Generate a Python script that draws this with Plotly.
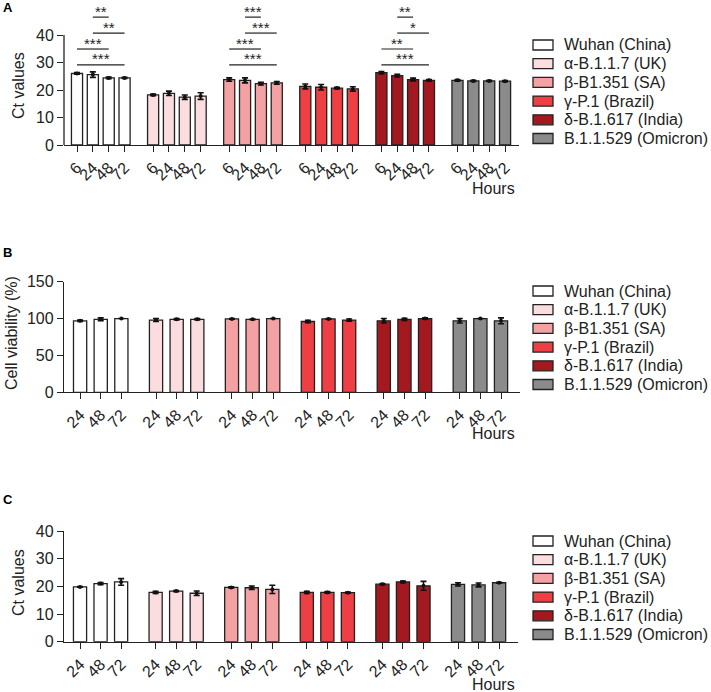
import plotly.graph_objects as go

FONT = "Liberation Sans, Arial, sans-serif"
TXT = "#222222"
W, H = 711, 692

variants = ["Wuhan (China)", "α-B.1.1.7 (UK)", "β-B1.351 (SA)",
            "γ-P.1 (Brazil)", "δ-B.1.617 (India)", "B.1.1.529 (Omicron)"]
colors = ["#ffffff", "#fbdde0", "#f4a1a4", "#ee3f45", "#a3191f", "#8b8b8b"]

# Panel A: Ct values at 6/24/48/72 h
hours_a = ["6", "24", "48", "72"]
ct_a_mean = [
    [26.0, 25.6, 24.4, 24.4],
    [18.2, 18.8, 17.4, 17.8],
    [23.8, 23.5, 22.3, 22.6],
    [21.3, 21.0, 20.7, 20.4],
    [26.3, 25.2, 23.8, 23.5],
    [23.5, 23.3, 23.3, 23.2],
]
ct_a_sd = [
    [0.3, 1.0, 0.3, 0.2],
    [0.3, 0.8, 0.8, 1.2],
    [0.6, 0.9, 0.5, 0.5],
    [0.9, 1.0, 0.3, 0.8],
    [0.4, 0.5, 0.5, 0.3],
    [0.3, 0.2, 0.2, 0.2],
]
# significance: (variant index, from hour index, to hour index, label)
sig_a = [
    (0, 1, 2, "**"), (0, 1, 3, "**"), (0, 0, 2, "***"), (0, 0, 3, "***"),
    (2, 1, 2, "***"), (2, 1, 3, "***"), (2, 0, 2, "***"), (2, 0, 3, "***"),
    (4, 1, 2, "**"), (4, 1, 3, "*"), (4, 0, 2, "**"), (4, 0, 3, "***"),
]

# Panel B: cell viability at 24/48/72 h
hours_bc = ["24", "48", "72"]
via_mean = [
    [97, 99, 100],
    [98, 99, 99],
    [99.5, 99, 100],
    [96, 99.5, 98],
    [97, 99, 100],
    [97, 100, 97],
]
via_sd = [
    [1, 2, 0],
    [2, 1, 1],
    [0.5, 0.5, 0],
    [1.5, 0.5, 1.5],
    [3, 1.5, 1],
    [3, 0, 4],
]

# Panel C: Ct values at 24/48/72 h
ct_c_mean = [
    [19.8, 21.0, 21.6],
    [17.8, 18.3, 17.5],
    [19.6, 19.5, 18.9],
    [17.8, 17.8, 17.7],
    [20.8, 21.6, 20.2],
    [20.7, 20.5, 21.3],
]
ct_c_sd = [
    [0.1, 0.4, 1.2],
    [0.4, 0.2, 0.8],
    [0.2, 0.6, 1.5],
    [0.4, 0.3, 0.2],
    [0.2, 0.3, 1.6],
    [0.6, 0.7, 0.2],
]


def px_x(p):
    return p / W


def px_y(p):
    return 1 - p / H


fig = go.Figure()

panels = [
    dict(ax="", mean=ct_a_mean, sd=ct_a_sd, hours=hours_a, period=4.8, bw=0.7,
         xr=[-0.82, 27.88], xpx=(64, 519), ypx=(13, 145)),
    dict(ax="2", mean=via_mean, sd=via_sd, hours=hours_bc, period=3.68, bw=0.64,
         xr=[-0.78, 21.32], xpx=(64, 520), ypx=(281.7, 392.3)),
    dict(ax="3", mean=ct_c_mean, sd=ct_c_sd, hours=hours_bc, period=3.68, bw=0.64,
         xr=[-0.78, 21.32], xpx=(64, 518), ypx=(531, 641.7)),
]

for p in panels:
    xs_all, lab_all = [], []
    for g, (m, s) in enumerate(zip(p["mean"], p["sd"])):
        xs = [g * p["period"] + j for j in range(len(m))]
        xs_all += xs
        lab_all += p["hours"]
        fig.add_trace(go.Bar(
            x=xs, y=m, width=p["bw"], name=variants[g],
            marker=dict(color=colors[g], line=dict(color="#222222", width=1.3)),
            error_y=dict(type="data", array=s, visible=True, color="#111111",
                         thickness=1.6, width=3),
            xaxis="x" + p["ax"], yaxis="y" + p["ax"], showlegend=False,
        ))
        fig.add_trace(go.Scatter(
            x=xs, y=m, mode="markers",
            marker=dict(color="#111111", size=4),
            xaxis="x" + p["ax"], yaxis="y" + p["ax"], showlegend=False,
            hoverinfo="skip",
        ))
    p["tickvals"] = xs_all
    p["ticktext"] = lab_all

common_x = dict(showline=True, linecolor="#222222", linewidth=1.3, ticks="outside",
                ticklen=6, tickwidth=1.3, tickcolor="#222222", tickangle=-45,
                tickfont=dict(family=FONT, size=16, color=TXT), showgrid=False,
                zeroline=False, automargin=False)
common_y = dict(ticks="outside", ticklen=6, tickwidth=1.3, tickcolor="#222222",
                tickfont=dict(family=FONT, size=16, color=TXT), showgrid=False,
                zeroline=False, automargin=False, linecolor="#222222", linewidth=1.3)

layout = dict(
    width=W, height=H, margin=dict(l=0, r=0, t=0, b=0),
    paper_bgcolor="white", plot_bgcolor="white", barmode="overlay",
    font=dict(family=FONT, color=TXT), showlegend=False,
)

yranges = [[0, 48], [0, 150], [0, 40]]
ytickvals = [[0, 10, 20, 30, 40], [0, 50, 100, 150], [0, 10, 20, 30, 40]]
for p, yr, yt in zip(panels, yranges, ytickvals):
    a = p["ax"]
    layout["xaxis" + a] = dict(common_x, domain=[px_x(p["xpx"][0]), px_x(p["xpx"][1])],
                               range=p["xr"], tickvals=p["tickvals"], ticktext=p["ticktext"],
                               anchor="y" + a)
    layout["yaxis" + a] = dict(common_y, domain=[px_y(p["ypx"][1]), px_y(p["ypx"][0])],
                               range=yr, tickvals=yt, anchor="x" + a,
                               showline=(a != ""))

fig.update_layout(**layout)

shapes = []
annotations = []

# y-axis line of panel A only up to 40 (range extends to fit brackets)
shapes.append(dict(type="line", xref="x domain", yref="y", x0=0, x1=0, y0=0, y1=40,
                   line=dict(color="#222222", width=1.3)))

# significance brackets in panel A
levels = {(1, 2): 46.5, (1, 3): 40.7, (0, 2): 34.9, (0, 3): 29.1}
pa = panels[0]
for g, i, j, lab in sig_a:
    x0 = g * pa["period"] + i
    x1 = g * pa["period"] + j
    yv = levels[(i, j)]
    shapes.append(dict(type="line", xref="x", yref="y", x0=x0, x1=x1, y0=yv, y1=yv,
                       line=dict(color="#222222", width=1.2)))
    annotations.append(dict(x=(x0 + x1) / 2, y=yv, xref="x", yref="y", text=lab,
                            showarrow=False, yanchor="middle", yshift=6,
                            font=dict(family=FONT, size=15, color=TXT)))

# y titles
ytitles = [("Ct values", 18, 86), ("Cell viability (%)", 11, 333), ("Ct values", 18, 583)]
for t, xp, yp in ytitles:
    annotations.append(dict(text=t, x=px_x(xp), y=px_y(yp), xref="paper", yref="paper",
                            showarrow=False, textangle=-90, xanchor="center", yanchor="middle",
                            font=dict(family=FONT, size=16, color=TXT)))

# panel letters
for t, yp in [("A", 8), ("B", 252), ("C", 499)]:
    annotations.append(dict(text="<b>%s</b>" % t, x=px_x(1), y=px_y(yp), xref="paper",
                            yref="paper", showarrow=False, xanchor="left", yanchor="middle",
                            font=dict(family=FONT, size=13, color="#000000")))

# "Hours" labels
for yp in [188, 433, 684]:
    annotations.append(dict(text="Hours", x=px_x(493), y=px_y(yp), xref="paper", yref="paper",
                            showarrow=False, xanchor="center", yanchor="middle",
                            font=dict(family=FONT, size=16, color=TXT)))

# legends (drawn manually, one per panel)
for top in [45, 291, 541]:
    for k, (name, col) in enumerate(zip(variants, colors)):
        yc = top + k * 18.7
        shapes.append(dict(type="rect", xref="paper", yref="paper",
                           x0=px_x(533), x1=px_x(553), y0=px_y(yc + 5), y1=px_y(yc - 5),
                           fillcolor=col, line=dict(color="#222222", width=1.3)))
        annotations.append(dict(text=name, x=px_x(562), y=px_y(yc), xref="paper",
                                yref="paper", showarrow=False, xanchor="left",
                                yanchor="middle",
                                font=dict(family=FONT, size=16, color=TXT)))

fig.update_layout(shapes=shapes, annotations=annotations)
# remove the browser's default page margin so the figure fills the window exactly
fig.write_html("out.html", config={"displayModeBar": False},
               post_script="document.body.style.margin='0';document.body.style.overflow='hidden';")
